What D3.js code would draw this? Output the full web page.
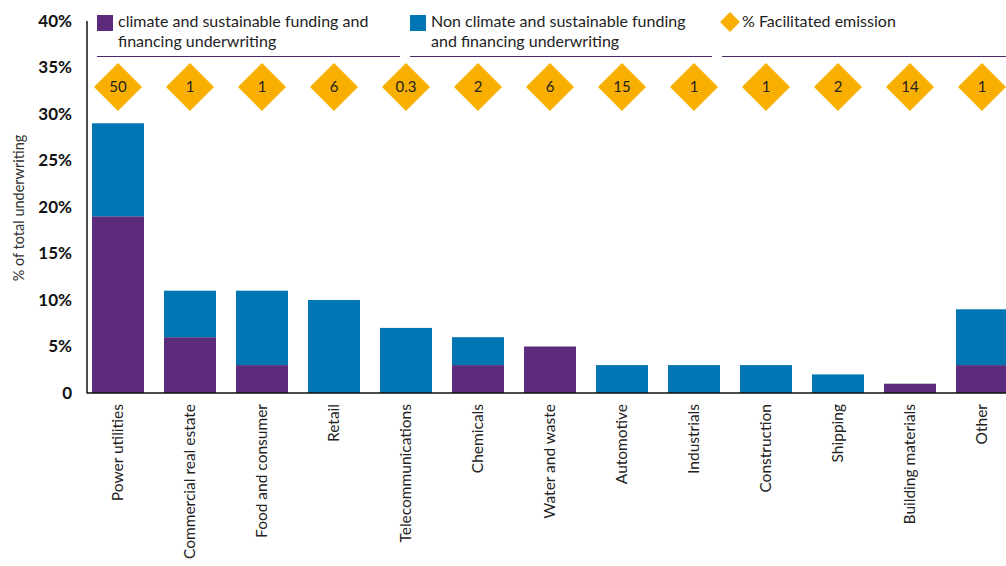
<!DOCTYPE html>
<html><head><meta charset="utf-8">
<script src="https://cdn.jsdelivr.net/npm/d3@7"></script>
<style>
html,body{margin:0;padding:0;background:#fff;}
svg{display:block;font-family:Lato,"Open Sans",sans-serif;}
</style></head>
<body><svg id="chart" width="1006" height="566"></svg>
<script>
const categories = ["Power utilities","Commercial real estate","Food and consumer","Retail","Telecommunications","Chemicals","Water and waste","Automotive","Industrials","Construction","Shipping","Building materials","Other"];
const climateValues = [19, 6, 3, 0, 0, 3, 5, 0, 0, 0, 0, 1, 3];
const nonClimateValues = [10, 5, 8, 10, 7, 3, 0, 3, 3, 3, 2, 0, 6];
const emissionLabels = ["50","1","1","6","0.3","2","6","15","1","1","2","14","1"];
const yTicks = [0, 5, 10, 15, 20, 25, 30, 35, 40];
const seriesNames = ["climate and sustainable funding and|financing underwriting", "Non climate and sustainable funding|and financing underwriting", "% Facilitated emission"];

const PURPLE = "#5C2B7C", BLUE = "#0075B4", GOLD = "#F9AF00";
const svg = d3.select("#chart");
const x0 = 87, yBase = 393, yTop = 21;

const x = d3.scaleBand().domain(categories).range([82, 1018]).paddingInner(0.278).paddingOuter(0.139);
const y = d3.scaleLinear().domain([0, 40]).range([yBase, yTop]);

// bars
const rows = categories.map((c, i) => ({c, a: climateValues[i], b: nonClimateValues[i]}));
svg.append("g").selectAll("rect.a").data(rows).join("rect")
  .attr("x", d => x(d.c)).attr("width", x.bandwidth())
  .attr("y", d => y(d.a)).attr("height", d => y(0) - y(d.a)).attr("fill", PURPLE);
svg.append("g").selectAll("rect.b").data(rows).join("rect")
  .attr("x", d => x(d.c)).attr("width", x.bandwidth())
  .attr("y", d => y(d.a + d.b)).attr("height", d => y(d.a) - y(d.a + d.b)).attr("fill", BLUE);

// y axis
const yAxis = d3.axisLeft(y).tickValues(yTicks).tickSize(0).tickPadding(15)
  .tickFormat(d => d === 0 ? "0" : d + "%");
const ga = svg.append("g").attr("transform", `translate(${x0},0)`).call(yAxis);
ga.select(".domain").remove();
ga.selectAll("text").attr("font-size", 17).attr("font-weight", "bold").attr("fill", "#111")
  .attr("font-family", "Lato, sans-serif");
svg.append("line").attr("x1", x0).attr("x2", x0).attr("y1", yTop).attr("y2", yBase + 0.5)
  .attr("stroke", "#111").attr("stroke-width", 1.5);

// x axis
const xAxis = d3.axisBottom(x).tickSize(0).tickPadding(0);
const gx = svg.append("g").attr("transform", `translate(0,${yBase})`).call(xAxis);
gx.select(".domain").remove();
gx.selectAll("text").attr("transform", "rotate(-90)").attr("text-anchor", "end")
  .attr("x", -11).attr("y", 0).attr("dy", "0.35em")
  .attr("font-size", 15.5).attr("fill", "#222").attr("font-family", "Lato, sans-serif");
svg.append("line").attr("x1", x0).attr("x2", 1006).attr("y1", yBase).attr("y2", yBase)
  .attr("stroke", "#111").attr("stroke-width", 1.5);

// y title
svg.append("text").attr("transform", `translate(24,208) rotate(-90)`)
  .attr("text-anchor", "middle").attr("font-size", 14.5).attr("fill", "#333")
  .text("% of total underwriting");

// diamonds
const dg = svg.append("g").selectAll("g").data(categories).join("g")
  .attr("transform", d => `translate(${x(d) + x.bandwidth() / 2},87)`);
dg.append("rect").attr("x", -17).attr("y", -17).attr("width", 34).attr("height", 34)
  .attr("transform", "rotate(45)").attr("fill", GOLD);
dg.append("text").attr("text-anchor", "middle").attr("dy", "0.36em").attr("font-size", 15)
  .attr("fill", "#222").text((d, i) => emissionLabels[i]);

// legend
const legX = [97, 410, 722];
const lg = svg.append("g");
[[PURPLE, 0], [BLUE, 1]].forEach(([col, i]) => {
  lg.append("rect").attr("x", legX[i]).attr("y", 15).attr("width", 16).attr("height", 16).attr("fill", col);
  const t = lg.append("text").attr("x", legX[i] + 21).attr("y", 27).attr("font-size", 16).attr("fill", "#222");
  seriesNames[i].split("|").forEach((s, k) => t.append("tspan").attr("x", legX[i] + 21).attr("dy", k ? 20 : 0).text(s));
});
lg.append("rect").attr("x", -7).attr("y", -7).attr("width", 14).attr("height", 14)
  .attr("transform", `translate(${legX[2] + 8},22) rotate(45)`).attr("fill", GOLD);
lg.append("text").attr("x", legX[2] + 20).attr("y", 27).attr("font-size", 16).attr("fill", "#222").text(seriesNames[2]);
[[97, 400], [410, 712], [722, 1006]].forEach(([a, b]) =>
  lg.append("line").attr("x1", a).attr("x2", b).attr("y1", 56.5).attr("y2", 56.5).attr("stroke", "#4B2A6E").attr("stroke-width", 1.2));
</script></body></html>
